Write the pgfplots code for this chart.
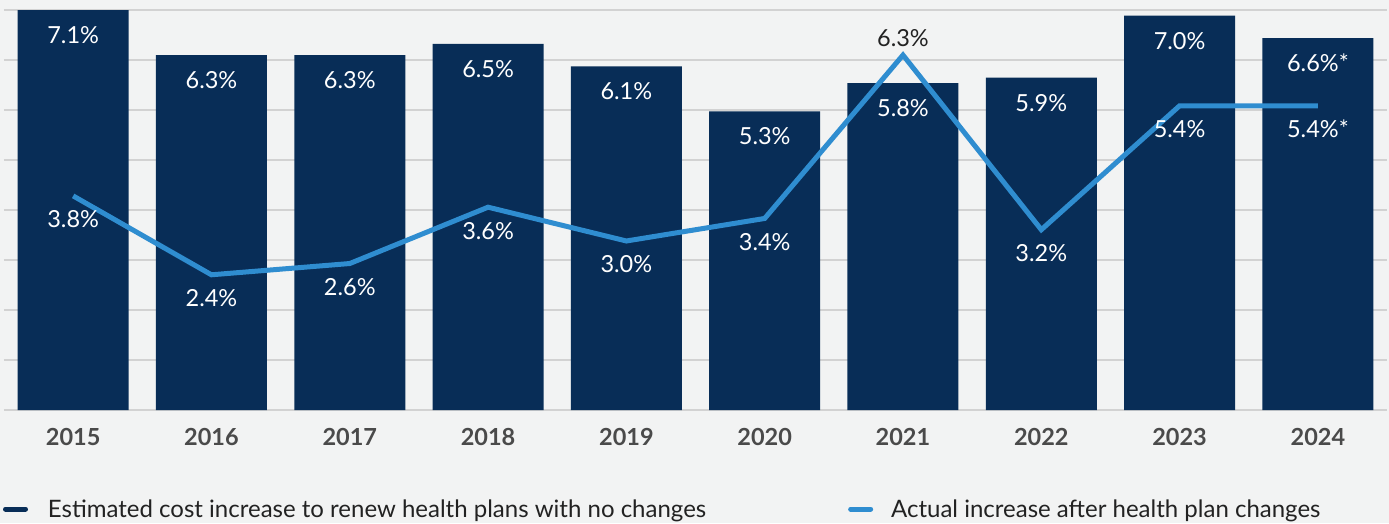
\documentclass[border=0pt]{standalone}
\usepackage{pgfplots}
\pgfplotsset{compat=1.18}
\usepackage{fontspec}
\setmainfont{Lato}

\definecolor{navy}{HTML}{082D57}
\definecolor{lineblue}{HTML}{2F8DD0}
\definecolor{bg}{HTML}{F2F3F3}
\definecolor{gridgray}{HTML}{D2D2D2}
\definecolor{yeartext}{HTML}{4A4A4A}
\definecolor{legtext}{HTML}{222222}

\newcommand{\lbl}{\fontsize{23.5}{28}\selectfont}
\newcommand{\leg}{\fontsize{24}{28}\selectfont}

\begin{document}
\begin{tikzpicture}
\path[use as bounding box, fill=bg] (0,0) rectangle (1389pt,523pt);
\begin{axis}[
    at={(4pt,113pt)}, anchor=south west,
    width=1383pt, height=400pt, scale only axis,
    xmin=-0.5, xmax=9.5, ymin=0, ymax=7.1,
    clip=false,
    axis line style={draw=none},
    tick style={draw=none},
    major tick length=0pt,
    xtick={0,1,2,3,4,5,6,7,8,9},
    xticklabels={2015,2016,2017,2018,2019,2020,2021,2022,2023,2024},
    xticklabel style={font=\lbl\bfseries, text=yeartext, anchor=base, yshift=-35pt},
    ytick={0,0.8875,1.775,2.6625,3.55,4.4375,5.325,6.2125,7.1},
    yticklabels={},
    ymajorgrids=true,
    major grid style={draw=gridgray, line width=2pt},
    legend columns=2,
    legend style={at={(axis description cs:0,0)}, anchor=west,
        xshift=-1pt, yshift=-99pt,
        draw=none, fill=none, inner sep=0pt, outer sep=0pt,
        font=\leg, text=legtext,
        nodes={inner sep=0pt},
        /tikz/column 1/.style={column sep=20pt},
        /tikz/column 2/.style={column sep=142pt},
        /tikz/column 3/.style={column sep=18pt}},
]
% estimated increase, no plan changes
\addplot[ybar, bar width=111pt, fill=navy, draw=none,
    point meta=explicit symbolic,
    nodes near coords={\pgfplotspointmeta},
    every node near coord/.append style={anchor=base, yshift=-33.5pt,
        text=white, font=\lbl, inner sep=0pt},
    legend image code/.code={
        \path[draw=none, fill=none] (0pt,-2.5pt) rectangle (25pt,2.5pt);
        \draw[navy, fill=none, line width=5pt, line cap=round] (2.5pt,0pt) -- (22.5pt,0pt);}
] coordinates {
    (0,7.1) [7.1\%]
    (1,6.3) [6.3\%]
    (2,6.3) [6.3\%]
    (3,6.5) [6.5\%]
    (4,6.1) [6.1\%]
    (5,5.3) [5.3\%]
    (6,5.8) [5.8\%]
    (7,5.9) [5.9\%]
    (8,7.0) [7.0\%]
    (9,6.6) [6.6\%*]
};
\addlegendentry{Estimated cost increase to renew health plans with no changes}

% actual increase after plan changes
\addplot[sharp plot, color=lineblue, line width=5pt, mark=none,
    point meta=explicit symbolic,
    nodes near coords={\pgfplotspointmeta},
    every node near coord/.append style={anchor=base, yshift=-32pt,
        text=white, font=\lbl, inner sep=0pt},
    legend image code/.code={
        \path[draw=none, fill=none] (0pt,-2.5pt) rectangle (25pt,2.5pt);
        \draw[lineblue, fill=none, line width=5pt, line cap=round] (2.5pt,0pt) -- (22.5pt,0pt);}
] coordinates {
    (0,3.8) [3.8\%]
    (1,2.4) [2.4\%]
    (2,2.6) [2.6\%]
    (3,3.6) [3.6\%]
    (4,3.0) [3.0\%]
    (5,3.4) [3.4\%]
    (6,6.3) []
    (7,3.2) [3.2\%]
    (8,5.4) [5.4\%]
    (9,5.4) [5.4\%*]
};
\addlegendentry{Actual increase after health plan changes}

% 2021 label sits above the line
\addplot[draw=none, mark=none, forget plot,
    point meta=explicit symbolic,
    nodes near coords={\pgfplotspointmeta},
    every node near coord/.append style={anchor=base, yshift=9pt,
        text=legtext, font=\lbl, inner sep=0pt}
] coordinates {(6,6.3) [6.3\%]};
\end{axis}
\end{tikzpicture}
\end{document}
